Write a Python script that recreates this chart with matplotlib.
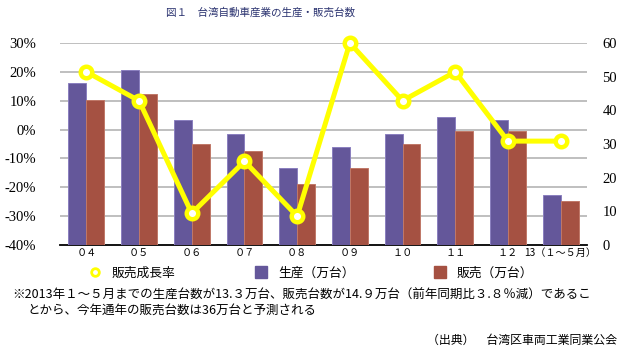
import matplotlib
matplotlib.use('Agg')
import matplotlib.pyplot as plt
from matplotlib.lines import Line2D
import numpy as np

# data
years = ['０４', '０５', '０６', '０７', '０８', '０９', '１０', '１１', '１２', '13（１～５月）']
production = [48, 52, 37, 33, 23, 29, 33, 38, 37, 15]   # 万台
sales = [43, 45, 30, 28, 18, 23, 30, 34, 34, 13]        # 万台
growth = [20, 10, -29, -11, -30, 30, 10, 20, -4, -4]    # 販売成長率 %
pct_ticks = [-40, -30, -20, -10, 0, 10, 20, 30]
unit_ticks = [0, 10, 20, 30, 40, 50, 60]

CJK = ['Noto Sans CJK JP', 'DejaVu Sans']
SERIF = ['Liberation Serif', 'Noto Sans CJK JP']
purple = '#64579a'
red = '#a55142'
yellow = '#ffff00'

fig = plt.figure(figsize=(6.29, 3.52), dpi=100)
W, H = 629, 352
ax = fig.add_axes([60 / W, 1 - 245 / H, (587 - 60) / W, (245 - 43) / H])

# percent axis on the left, carries the grid only
ax.set_xlim(-0.5, len(years) - 0.5)
ax.set_ylim(-40, 30)
ax.set_yticks(pct_ticks)
ax.set_yticklabels(['%d%%' % v for v in pct_ticks], family=SERIF, fontsize=10.5)
for v in pct_ticks[1:]:
    ax.axhline(v, color='#b4b4b4', lw=1.2, zorder=0)
ax.tick_params(axis='y', length=0, pad=17)
ax.set_xticks(range(len(years)))
ax.set_xticklabels(years, family=CJK, fontsize=7.3)
ax.tick_params(axis='x', length=0, pad=2)
for s in ['top', 'left', 'right']:
    ax.spines[s].set_visible(False)
ax.spines['bottom'].set_linewidth(1.3)
ax.spines['bottom'].set_color('black')

# bars on the right scale
ax2 = ax.twinx()
x = np.arange(len(years))
w = 0.34
ax2.bar(x - w / 2, production, w, color=purple, edgecolor='#8a7fbf', lw=0.7)
ax2.bar(x + w / 2, sales, w, color=red, edgecolor='#c07868', lw=0.7)
ax2.set_ylim(0, 60)
ax2.set_yticks(unit_ticks)
ax2.set_yticklabels([str(v) for v in unit_ticks], family=SERIF, fontsize=10.5)
ax2.tick_params(axis='y', length=0, pad=11)
for s in ax2.spines.values():
    s.set_visible(False)

# growth line on top
ax3 = ax.twinx()
ax3.set_ylim(-40, 30)
ax3.plot(x, growth, color=yellow, lw=3.6, marker='o', ms=8.3,
         mfc='white', mec=yellow, mew=3.2, clip_on=False, zorder=5)
ax3.set_yticks([])
for s in ax3.spines.values():
    s.set_visible(False)

fig.text(261 / W, 1 - 13 / H,
         '図１　台湾自動車産業の生産・販売台数', family=CJK, fontsize=7.6,
         color='#2b3370', ha='center', va='center')

handles = [
    Line2D([], [], ls='none', marker='o', ms=5.5, mfc='white', mec=yellow, mew=2),
    Line2D([], [], ls='none', marker='s', ms=8, mfc=purple, mec=purple),
    Line2D([], [], ls='none', marker='s', ms=8, mfc=red, mec=red),
]
fig.legend(handles, ['販売成長率', '生産（万台）', '販売（万台）'],
           loc='center left', bbox_to_anchor=(89 / W, 1 - 273 / H), ncol=3,
           frameon=False, borderpad=0, borderaxespad=0, handlelength=1.0,
           handletextpad=0.8, columnspacing=6.2, prop={'family': CJK, 'size': 9.2})

fig.text(12 / W, 1 - 295 / H,
         '※2013年１～５月までの生産台数が13.３万台、販売台数が14.９万台（前年同期比３.８％減）であるこ',
         family=CJK, fontsize=9.0, ha='left', va='center')
fig.text(27 / W, 1 - 310 / H,
         'とから、今年通年の販売台数は36万台と予測される',
         family=CJK, fontsize=9.0, ha='left', va='center')
fig.text(617 / W, 1 - 340 / H, '（出典）　台湾区車両工業同業公会',
         family=CJK, fontsize=8.6, ha='right', va='center')

fig.savefig('out.png', dpi=100)
